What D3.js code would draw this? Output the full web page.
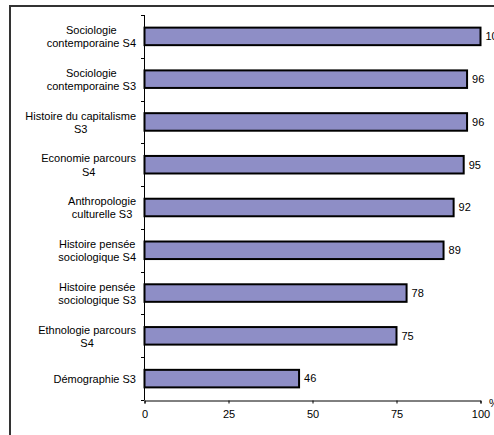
<!DOCTYPE html>
<html>
<head>
<meta charset="utf-8">
<script src="https://cdn.jsdelivr.net/npm/d3@7"></script>
<style>
body { margin: 0; background: #fff; }
svg { display: block; font-family: "Liberation Sans", Arial, sans-serif; }
</style>
</head>
<body>
<div id="chart"></div>
<script>
// data
var categories = [
	"Sociologie\ncontemporaine S4",
	"Sociologie\ncontemporaine S3",
	"Histoire du capitalisme\nS3",
	"Economie parcours\nS4",
	"Anthropologie\nculturelle S3",
	"Histoire pensée\nsociologique S4",
	"Histoire pensée\nsociologique S3",
	"Ethnologie parcours\nS4",
	"Démographie S3"
]
var values = [100, 96, 96, 95, 92, 89, 78, 75, 46]
var xTicks = [0, 25, 50, 75, 100]

var w = 494, h = 435

var svg = d3.select("#chart")
	.append("svg")
	.attr("width", w)
	.attr("height", h)

// outer frame (right and bottom edges fall outside the picture)
svg.append("rect")
	.attr("x", 10).attr("y", 6)
	.attr("width", 500).attr("height", 500)
	.attr("fill", "none")
	.attr("stroke", "#333")
	.attr("stroke-width", 2)

var x = d3.scaleLinear().domain([0, 100]).range([144.5, 480.5])
var y = d3.scaleBand()
	.domain(categories)
	.range([15, 400])
	.paddingInner(0.59)
	.paddingOuter(0.295)

// y axis line + ticks at band boundaries
var yg = svg.append("g").attr("stroke", "#000").attr("stroke-width", 1)
yg.append("line")
	.attr("x1", 144.5).attr("x2", 144.5)
	.attr("y1", 15).attr("y2", 400)
d3.range(categories.length + 1).forEach(function(i) {
	var yy = Math.round(15 + i * y.step()) + 0.5
	yg.append("line")
		.attr("x1", 141).attr("x2", 144.5)
		.attr("y1", yy).attr("y2", yy)
})

// x axis
var xAxis = d3.axisBottom(x)
	.tickValues(xTicks)
	.tickSize(3)
	.tickPadding(7)
var xg = svg.append("g")
	.attr("transform", "translate(0,400.5)")
	.call(xAxis)
xg.select(".domain").attr("stroke", "#000")
xg.selectAll("text")
	.attr("font-size", 11)
	.attr("font-family", "Liberation Sans, Arial, sans-serif")
	.attr("fill", "#000")

// % unit
svg.append("text")
	.attr("x", 489).attr("y", 407)
	.attr("font-size", 11)
	.text("%")

// bars
svg.append("g").selectAll("rect")
	.data(values)
	.enter()
	.append("rect")
	.attr("x", x(0))
	.attr("y", function(d, i) {return y(categories[i])})
	.attr("width", function(d) {return x(d) - x(0)})
	.attr("height", y.bandwidth())
	.attr("fill", "#8e8ec6")
	.attr("stroke", "#000")
	.attr("stroke-width", 2)

// value labels
svg.append("g").selectAll("text")
	.data(values)
	.enter()
	.append("text")
	.attr("x", function(d) {return x(d) + 5})
	.attr("y", function(d, i) {return y(categories[i]) + y.bandwidth() / 2})
	.attr("dy", "0.35em")
	.attr("font-size", 11)
	.text(function(d) {return d})

// category labels: block right edge at 136, lines centred inside block
var labRight = 136
var lab = svg.append("g").selectAll("text")
	.data(categories)
	.enter()
	.append("text")
	.attr("text-anchor", "middle")
	.attr("font-size", 11)
	.attr("y", function(d) {return y(d) + y.bandwidth() / 2 + 0.5})

lab.each(function(d) {
	var lines = d.split("\n")
	var t = d3.select(this)
	var spans = lines.map(function(line, k) {
		return t.append("tspan")
			.attr("dy", k == 0 ? ((0.35 - (lines.length - 1) * 0.6) + "em") : "1.2em")
			.text(line)
	})
	var maxW = d3.max(spans, function(s) {return s.node().getComputedTextLength()})
	spans.forEach(function(s) {s.attr("x", labRight - maxW / 2)})
})
</script>
</body>
</html>
